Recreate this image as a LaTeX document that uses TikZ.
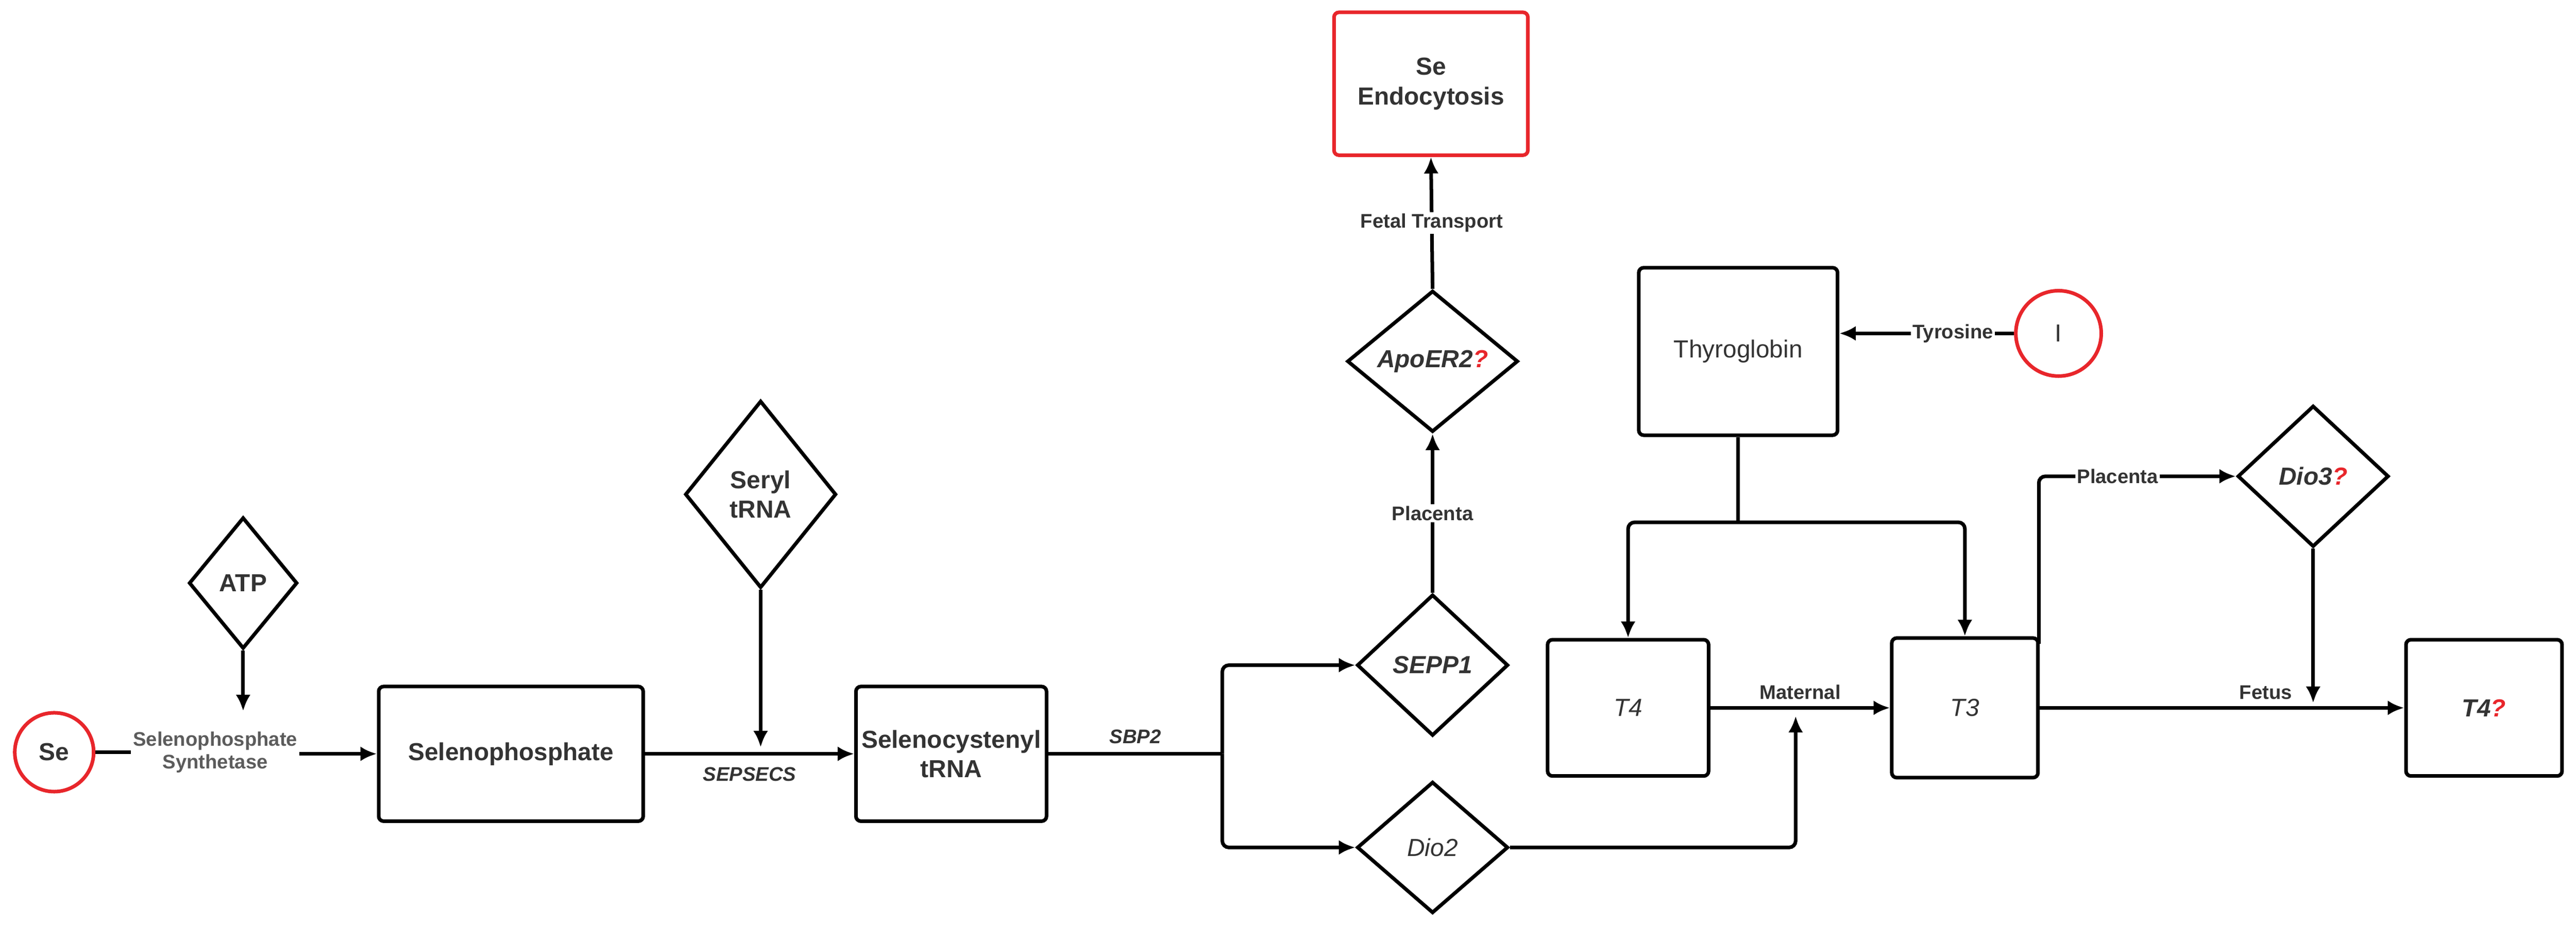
\documentclass[tikz,border=0pt]{standalone}
\usepackage{fontspec}
\setmainfont{Liberation Sans}
\usetikzlibrary{shapes.geometric,arrows.meta}
\definecolor{txt}{HTML}{333333}
\definecolor{rd}{HTML}{E8262B}
\begin{document}
\begin{tikzpicture}[x=1pt,y=-1pt,
  every node/.style={text=txt,font=\fontsize{15}{18}\selectfont\bfseries},
  box/.style={draw=black,line width=2.2pt,rounded corners=3pt,align=center,inner sep=0pt},
  dia/.style={draw=black,line width=2.2pt,diamond,inner sep=0pt,align=center},
  circ/.style={draw=rd,line width=2.2pt,circle,inner sep=0pt},
  lab/.style={font=\fontsize{12}{14}\selectfont\bfseries,fill=white,inner sep=1pt,align=center},
  ar/.style={line width=2.2pt,-{Latex[length=10pt,width=9pt]}},
  ln/.style={line width=2.2pt}]
\useasboundingbox (0,0) rectangle (1568,563);
\node[circ,minimum size=48pt] (se) at (33,458) {Se};
\node[lab,text=txt!80] (syn) at (131,458) {Selenophosphate\\Synthetase};
\node[dia,minimum width=66pt,minimum height=80pt] (atp) at (148,355) {ATP};
\node[box,minimum width=161pt,minimum height=82pt] (sp) at (311,459) {Selenophosphate};
\node[dia,minimum width=92pt,minimum height=114pt] (ser) at (463,301) {Seryl\\tRNA};
\node[box,minimum width=116pt,minimum height=82pt] (sc) at (579,459) {Selenocystenyl\\tRNA};
\node[dia,minimum width=92pt,minimum height=86pt] (sepp) at (872,405) {\itshape SEPP1};
\node[dia,minimum width=92pt,minimum height=80pt] (dio2) at (872,516) {\itshape\mdseries Dio2};
\node[dia,minimum width=104pt,minimum height=86pt] (apo) at (872,220) {\itshape ApoER2\textcolor{rd}{?}};
\node[box,draw=rd,minimum width=118pt,minimum height=87pt] (endo) at (871,51) {Se\\Endocytosis};
\node[box,minimum width=121pt,minimum height=102pt] (thy) at (1058,214) {\mdseries Thyroglobin};
\node[circ,minimum size=52pt] (iod) at (1253,203) {\mdseries I};
\node[box,minimum width=98pt,minimum height=83pt] (t4) at (991,431) {\itshape\mdseries T4};
\node[box,minimum width=89pt,minimum height=85pt] (t3) at (1196,431) {\itshape\mdseries T3};
\node[dia,minimum width=92pt,minimum height=86pt] (dio3) at (1408,290) {\itshape Dio3\textcolor{rd}{?}};
\node[box,minimum width=95pt,minimum height=83pt] (t4f) at (1512,431) {\itshape T4\textcolor{rd}{?}};
\coordinate (split) at (744,459);
\coordinate (thyb) at (1058,318);
\coordinate (atpe) at (148,433);
\draw[ln] (se) -- (syn.west|-se.east);
\draw[ar] (syn.east|-sp.west) -- (sp.west);
\draw[ar] (atp.south) -- (atpe);
\draw[ar] (sp) -- node[lab,below=6pt,font=\fontsize{12}{14}\selectfont\bfseries\itshape]{SEPSECS} (sc);
\draw[ar] (ser.south) -- (463,455);
\draw[ln] (sc.east) -- node[lab,above=4pt,font=\fontsize{12}{14}\selectfont\bfseries\itshape]{SBP2} (split);
\draw[ar,rounded corners=4pt] (split) |- (sepp.west);
\draw[ar,rounded corners=4pt] (split) |- (dio2.west);
\draw[ar] (sepp.north) -- node[lab]{Placenta} (apo.south);
\draw[ar] (apo.north) -- node[lab]{Fetal Transport} (endo.south);
\draw[ar] (iod.west) -- node[lab,pos=0.35]{Tyrosine} (thy.east|-iod.west);
\draw[ln] (thy.south) -- (thyb);
\draw[ar,rounded corners=4pt] (thyb) -| (t4.north);
\draw[ar,rounded corners=4pt] (thyb) -| (t3.north);
\draw[ar] (t4.east) -- node[lab,above=3pt,fill=none]{Maternal} (t3.west);
\draw[ar,rounded corners=4pt] (dio2.east) -| (1093,436);
\draw[ar,rounded corners=4pt] (1241,392) |- node[lab,pos=0.7]{Placenta} (dio3.west);
\draw[ar] (t3.east) -- node[lab,pos=0.62,above=3pt,fill=none]{Fetus} (t4f.west);
\draw[ar] (dio3.south) -- (1408,428);
\end{tikzpicture}
\end{document}
